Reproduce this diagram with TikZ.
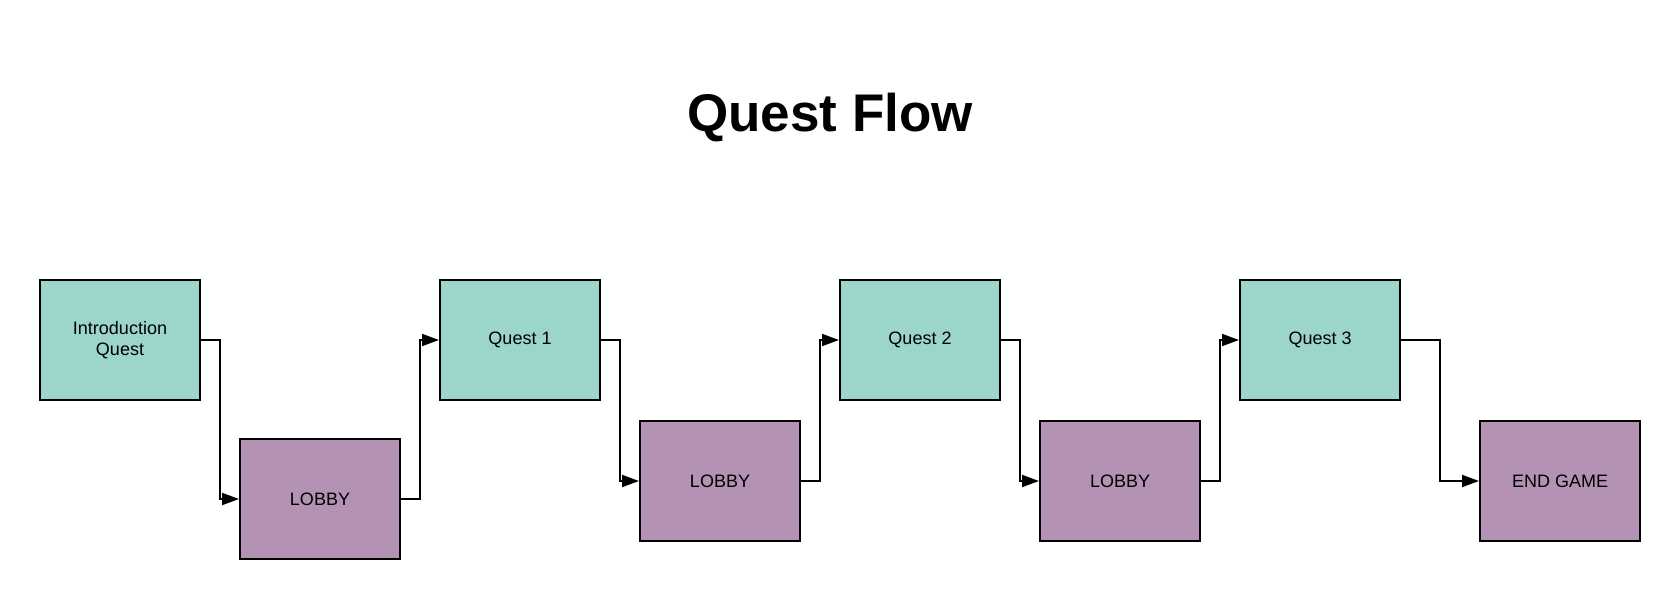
\documentclass[tikz,border=0pt]{standalone}
\usepackage{fontspec}
\setmainfont{Liberation Sans}
\usetikzlibrary{arrows.meta,calc,positioning}
\definecolor{questcol}{HTML}{9BD5CB}
\definecolor{lobbycol}{HTML}{B492B4}
\tikzset{
    x=1pt, y=1pt,
    box/.style ={rectangle, draw, minimum width=160pt, minimum height=120pt,
                 align=center, inner sep=4pt, font=\fontsize{18}{21.6}\selectfont},
    quest/.style ={box, fill=questcol},
    lobby/.style ={box, fill=lobbycol},
    link/.style ={-{Triangle[length=17pt,width=12pt]}}
}

\begin{document}
\begin{tikzpicture}[line width=2pt]

\useasboundingbox (0,0) rectangle (1680,-600);

% Title
\node[anchor=base, font=\bfseries\fontsize{53}{60}\selectfont] (title) at (830,-131) {Quest Flow};

% Nodes
\node[quest] (intro) at (120,-340) {Introduction\\Quest};
\node[lobby, below right=37pt and 38pt of intro] (lobby1) {LOBBY};
\node[quest, right=238pt of intro] (q1) {Quest 1};
\node[lobby, below right=19pt and 38pt of q1] (lobby2) {LOBBY};
\node[quest, right=238pt of q1] (q2) {Quest 2};
\node[lobby, below right=19pt and 38pt of q2] (lobby3) {LOBBY};
\node[quest, right=238pt of q2] (q3) {Quest 3};
\node[lobby, below right=19pt and 78pt of q3] (endgame) {END GAME};

% Paths (elbow connectors)
\draw[link] (intro.east) -| ($(intro.east)!0.5!(lobby1.west)$) |- (lobby1.west);
\draw[link] (lobby1.east) -| ($(lobby1.east)!0.5!(q1.west)$) |- (q1.west);
\draw[link] (q1.east) -| ($(q1.east)!0.5!(lobby2.west)$) |- (lobby2.west);
\draw[link] (lobby2.east) -| ($(lobby2.east)!0.5!(q2.west)$) |- (q2.west);
\draw[link] (q2.east) -| ($(q2.east)!0.5!(lobby3.west)$) |- (lobby3.west);
\draw[link] (lobby3.east) -| ($(lobby3.east)!0.5!(q3.west)$) |- (q3.west);
\draw[link] (q3.east) -| ($(q3.east)!0.5!(endgame.west)$) |- (endgame.west);

\end{tikzpicture}
\end{document}
